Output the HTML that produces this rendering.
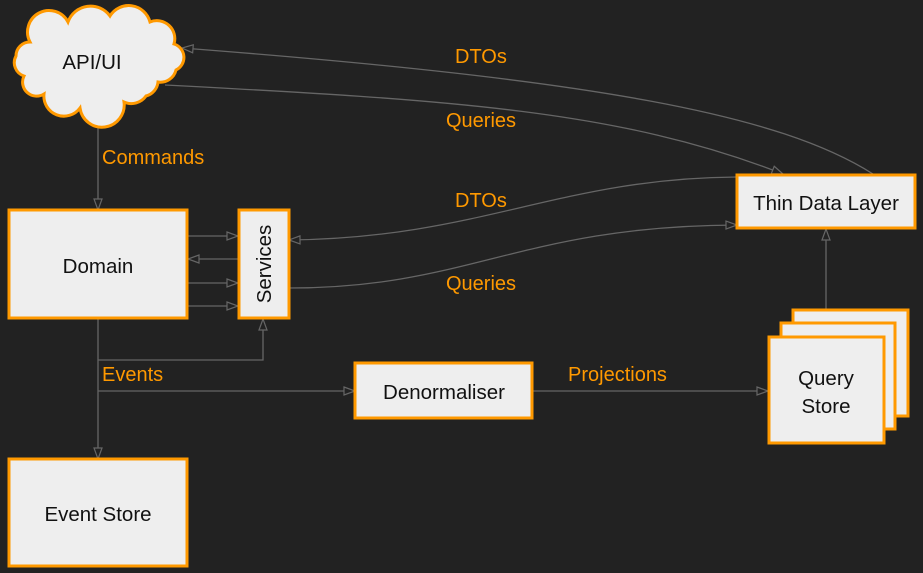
<!DOCTYPE html>
<html><head><meta charset="utf-8"><style>
html,body{margin:0;padding:0;background:#222222;}
svg{display:block}
text{font-family:"Liberation Sans",sans-serif;}
.box{fill:#eeeeee;stroke:#ff9900;stroke-width:3}
.ln{fill:none;stroke:#666;stroke-width:1.3}
.lbl{fill:#ff9900;font-size:20px}
.t{fill:#111;font-size:20.5px;text-anchor:middle}
</style></head><body>
<svg width="923" height="573" viewBox="0 0 923 573" xmlns="http://www.w3.org/2000/svg">
<defs>
<marker id="a" markerWidth="14" markerHeight="12" refX="12" refY="5" orient="auto" markerUnits="userSpaceOnUse">
<path d="M1,1 L12,5 L1,9 Z" fill="#222" stroke="#666" stroke-width="1.2"/>
</marker>
</defs>
<!-- connectors -->
<path class="ln" d="M98 113 V210" marker-end="url(#a)"/>
<path class="ln" d="M873 174 C780 115 600 80 182 48" marker-end="url(#a)"/>
<path class="ln" d="M165 85 C450 100 620 110 783 174" marker-end="url(#a)"/>
<path class="ln" d="M737 177 C560 178 480 238 289 240" marker-end="url(#a)"/>
<path class="ln" d="M289 288 C470 288 520 226 737 225" marker-end="url(#a)"/>
<path class="ln" d="M187 236 H238" marker-end="url(#a)"/>
<path class="ln" d="M238 259 H188" marker-end="url(#a)"/>
<path class="ln" d="M187 283 H238" marker-end="url(#a)"/>
<path class="ln" d="M187 306 H238" marker-end="url(#a)"/>
<path class="ln" d="M98 318 V459" marker-end="url(#a)"/>
<path class="ln" d="M98 360 H263 V319" marker-end="url(#a)"/>
<path class="ln" d="M98 391 H355" marker-end="url(#a)"/>
<path class="ln" d="M532 391 H768" marker-end="url(#a)"/>
<path class="ln" d="M826 309 V229" marker-end="url(#a)"/>
<!-- cloud -->
<path class="box" d="M30 42 A20 20 0 0 1 68 22 A24 24 0 0 1 110 16 A22 22 0 0 1 150 22 A18 18 0 0 1 174 44 A14 14 0 0 1 176 70 A16 16 0 0 1 158 82 A16 16 0 0 1 146 96 A18 18 0 0 1 124 102 A22 22 0 0 1 80 108 A20 20 0 0 1 44 94 A14 14 0 0 1 24 76 A14 14 0 0 1 16 56 A14 14 0 0 1 30 42 Z"/>
<text class="t" x="92" y="69">API/UI</text>
<!-- boxes -->
<rect class="box" x="9" y="210" width="178" height="108"/>
<text class="t" x="98" y="273">Domain</text>
<rect class="box" x="239" y="210" width="50" height="108"/>
<text class="t" transform="translate(271,264) rotate(-90)" y="0">Services</text>
<rect class="box" x="737" y="175" width="178" height="53"/>
<text class="t" x="826" y="210">Thin Data Layer</text>
<rect class="box" x="793" y="310" width="115" height="106"/>
<rect class="box" x="781" y="323" width="114" height="106"/>
<rect class="box" x="769" y="337" width="115" height="106"/>
<text class="t" x="826" y="385">Query</text>
<text class="t" x="826" y="413">Store</text>
<rect class="box" x="355" y="363" width="177" height="55"/>
<text class="t" x="444" y="399">Denormaliser</text>
<rect class="box" x="9" y="459" width="178" height="107"/>
<text class="t" x="98" y="521">Event Store</text>
<!-- labels -->
<text class="lbl" x="102" y="164">Commands</text>
<text class="lbl" x="455" y="63">DTOs</text>
<text class="lbl" x="446" y="127">Queries</text>
<text class="lbl" x="455" y="207">DTOs</text>
<text class="lbl" x="446" y="290">Queries</text>
<text class="lbl" x="102" y="381">Events</text>
<text class="lbl" x="568" y="381">Projections</text>
</svg>
</body></html>
